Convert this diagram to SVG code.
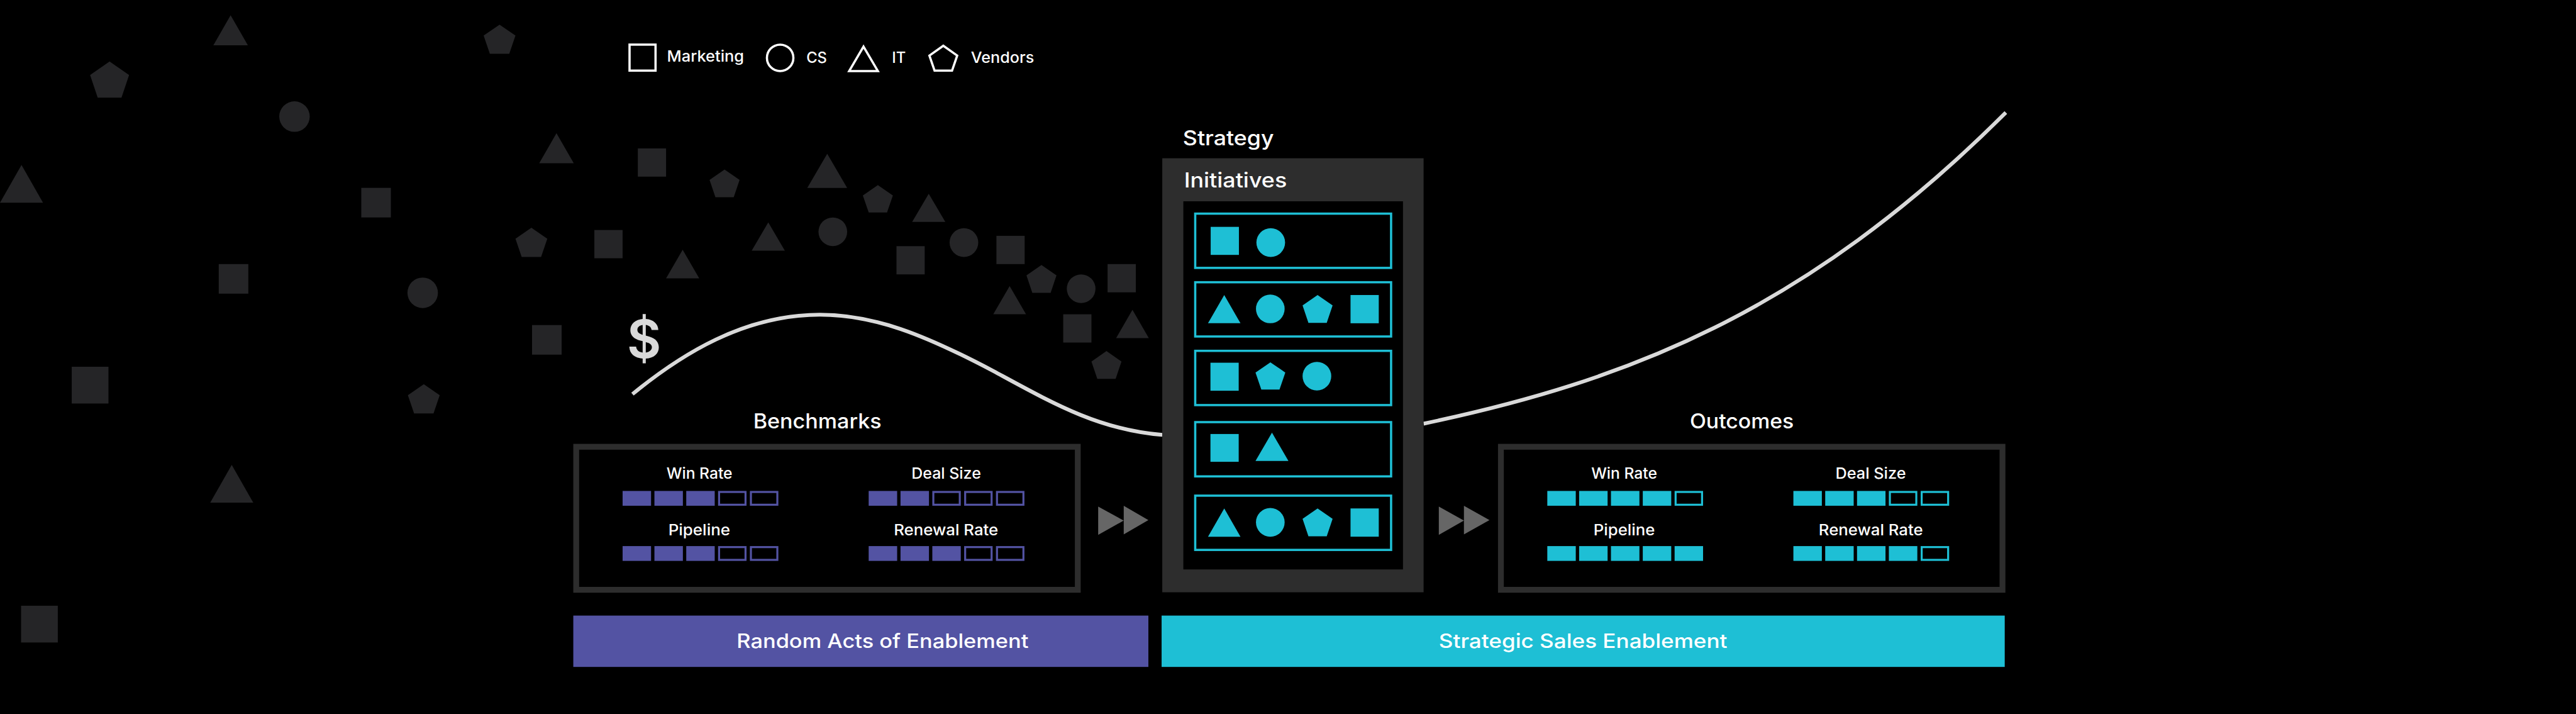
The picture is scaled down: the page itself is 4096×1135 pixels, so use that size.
<svg xmlns="http://www.w3.org/2000/svg" xmlns:xlink="http://www.w3.org/1999/xlink" width="4096" height="1135" viewBox="0 0 4096 1135">
<style>
text{font-family:Inter,"Liberation Sans",sans-serif;font-weight:500;fill:#fff}
.s{font-size:34px}.h{font-size:46px}.b{font-size:44px}
.d{fill:#252527}.c{fill:#1ebfd5}.p{fill:#5353a3}
.pe{fill:none;stroke:#5353a3;stroke-width:4.5}.ce{fill:none;stroke:#1ebfd5;stroke-width:4.5}
.frame{fill:#000;stroke:#2d2d2d;stroke-width:13}
.row{fill:#000;stroke:#1ebfd5;stroke-width:5}
.lg{fill:none;stroke:#fff;stroke-width:5}
.curve{fill:none;stroke:#d9d9d9;stroke-width:8.5}
.arrow{fill:#666}
</style>
<defs>
<polygon id="tri" points="0.5,0 1,1 0,1"/>
<polygon id="pent" points="0.5,0 1,0.375 0.805,1 0.195,1 0,0.375"/>
</defs>
<rect width="4096" height="1135" fill="#000"/>
<g transform="scale(0.71272)">
<g id="scatter" class="d">
<use href="#tri" transform="translate(476 34) scale(77 67)"/>
<use href="#pent" transform="translate(201 137) scale(87 81)"/>
<use href="#pent" transform="translate(1079 55) scale(71 65)"/>
<circle cx="657" cy="260" r="34"/>
<use href="#tri" transform="translate(1203 297) scale(77 67)"/>
<use href="#tri" transform="translate(0 368) scale(96 84)"/>
<rect x="806" y="419" width="66" height="66"/>
<use href="#pent" transform="translate(1150 508) scale(71 65)"/>
<rect x="488" y="589" width="66" height="66"/>
<circle cx="943" cy="653" r="34"/>
<rect x="1187" y="725" width="66" height="66"/>
<rect x="160" y="818" width="82" height="82"/>
<use href="#pent" transform="translate(910 857) scale(71 65)"/>
<use href="#tri" transform="translate(469 1037) scale(96 84)"/>
<rect x="47" y="1351" width="82" height="82"/>
<rect x="1423" y="331" width="63" height="63"/>
<use href="#pent" transform="translate(1583 378) scale(67 62)"/>
<use href="#tri" transform="translate(1801 343) scale(89 76)"/>
<use href="#pent" transform="translate(1925 413) scale(67 61)"/>
<use href="#tri" transform="translate(2035 432) scale(74 63)"/>
<circle cx="1858" cy="517" r="32"/>
<use href="#tri" transform="translate(1677 496) scale(74 63)"/>
<rect x="1326" y="513" width="63" height="63"/>
<use href="#tri" transform="translate(1486 557) scale(74 64)"/>
<rect x="2000" y="549" width="63" height="63"/>
<circle cx="2150.5" cy="541" r="32"/>
<rect x="2223" y="526" width="63" height="63"/>
<use href="#pent" transform="translate(2290 591) scale(67 62)"/>
<circle cx="2412" cy="644" r="32"/>
<rect x="2471" y="589" width="63" height="63"/>
<use href="#tri" transform="translate(2216 638) scale(73 63)"/>
<rect x="2372" y="701" width="63" height="63"/>
<use href="#tri" transform="translate(2490 691) scale(73 63)"/>
<use href="#pent" transform="translate(2435 783) scale(67 62)"/>
</g>
<g id="legend">
<rect class="lg" x="1404.5" y="99.5" width="58" height="58"/>
<text class="s" x="1488" y="137" textLength="172" lengthAdjust="spacingAndGlyphs">Marketing</text>
<circle class="lg" cx="1740.5" cy="129" r="29.5"/>
<text class="s" x="1799" y="141" textLength="46" lengthAdjust="spacingAndGlyphs">CS</text>
<polygon class="lg" points="1926.5,104 1958.5,158.5 1894.5,158.5"/>
<text class="s" x="1990" y="141" textLength="31" lengthAdjust="spacingAndGlyphs">IT</text>
<polygon class="lg" points="2104.5,102 2135.5,124 2124,157.5 2085,157.5 2073.5,124"/>
<text class="s" x="2166" y="141" textLength="141" lengthAdjust="spacingAndGlyphs">Vendors</text>
</g>
<g id="connectors">
<path class="curve" d="M1411 879C1520 790 1660 702 1829 702C1950 702 2060 745 2217 828C2350 900 2450 958 2593 970"/>
<path class="curve" d="M3176 945C3626 850 4025 700 4475 251"/>
<polygon class="arrow" points="2450,1130 2507,1161 2450,1193"/>
<polygon class="arrow" points="2507,1128 2562,1160 2507,1192"/>
<polygon class="arrow" points="3210,1130 3266,1161 3210,1193"/>
<polygon class="arrow" points="3266,1128 3323,1160 3266,1192"/>
</g>
<text id="dollar" x="1437" y="798" text-anchor="middle" style="font-size:118px;font-weight:600;fill:#d9d9d9">$</text>
<g id="benchmarks">
<text class="h" x="1680.5" y="956" textLength="286" lengthAdjust="spacingAndGlyphs">Benchmarks</text>
<rect class="frame" x="1285.5" y="996.5" width="1119" height="319"/>
<text class="s" x="1487" y="1068" textLength="147" lengthAdjust="spacingAndGlyphs">Win Rate</text>
<text class="s" x="2033.5" y="1068" textLength="155" lengthAdjust="spacingAndGlyphs">Deal Size</text>
<text class="s" x="1491" y="1194.5" textLength="138" lengthAdjust="spacingAndGlyphs">Pipeline</text>
<text class="s" x="1994" y="1194.5" textLength="233" lengthAdjust="spacingAndGlyphs">Renewal Rate</text>
<g class="p">
<rect x="1389" y="1095" width="63.5" height="33"/><rect x="1460" y="1095" width="63.5" height="33"/><rect x="1531" y="1095" width="63.5" height="33"/>
<rect x="1938" y="1095" width="63.5" height="33"/><rect x="2009" y="1095" width="63.5" height="33"/>
<rect x="1389" y="1218" width="63.5" height="33"/><rect x="1460" y="1218" width="63.5" height="33"/><rect x="1531" y="1218" width="63.5" height="33"/>
<rect x="1938" y="1218" width="63.5" height="33"/><rect x="2009" y="1218" width="63.5" height="33"/><rect x="2080" y="1218" width="63.5" height="33"/>
</g>
<g class="pe">
<rect x="1604.25" y="1097.25" width="59" height="28.5"/><rect x="1675.25" y="1097.25" width="59" height="28.5"/>
<rect x="2082.25" y="1097.25" width="59" height="28.5"/><rect x="2153.25" y="1097.25" width="59" height="28.5"/><rect x="2224.25" y="1097.25" width="59" height="28.5"/>
<rect x="1604.25" y="1220.25" width="59" height="28.5"/><rect x="1675.25" y="1220.25" width="59" height="28.5"/>
<rect x="2153.25" y="1220.25" width="59" height="28.5"/><rect x="2224.25" y="1220.25" width="59" height="28.5"/>
</g>
</g>
<g id="strategy">
<text class="h" x="2639" y="323.5" textLength="203" lengthAdjust="spacingAndGlyphs">Strategy</text>
<rect x="2593" y="353" width="583" height="968" fill="#2d2d2d"/>
<text class="h" x="2641.5" y="418" textLength="229.5" lengthAdjust="spacingAndGlyphs">Initiatives</text>
<rect x="2640" y="449" width="490" height="821" fill="#000"/>
<g id="initiative-1">
<rect class="row" x="2666.5" y="476.5" width="437" height="121"/>
<rect class="c" x="2701" y="506" width="63" height="62.5"/>
<circle class="c" cx="2835" cy="541" r="32"/>
</g>
<g id="initiative-2">
<rect class="row" x="2666.5" y="629.5" width="437" height="121"/>
<use class="c" href="#tri" transform="translate(2695 658) scale(72.5 63)"/>
<circle class="c" cx="2834" cy="689" r="32"/>
<use class="c" href="#pent" transform="translate(2906 658) scale(67 62)"/>
<rect class="c" x="3013" y="658" width="63" height="63"/>
</g>
<g id="initiative-3">
<rect class="row" x="2666.5" y="782.5" width="437" height="121"/>
<rect class="c" x="2700.5" y="809" width="63" height="62.5"/>
<use class="c" href="#pent" transform="translate(2801 808) scale(66.5 61)"/>
<circle class="c" cx="2938" cy="839" r="32"/>
</g>
<g id="initiative-4">
<rect class="row" x="2666.5" y="941.5" width="437" height="121"/>
<rect class="c" x="2700.5" y="968" width="63" height="62"/>
<use class="c" href="#tri" transform="translate(2801 965) scale(73.5 63)"/>
</g>
<g id="initiative-5">
<rect class="row" x="2666.5" y="1105.5" width="437" height="121"/>
<use class="c" href="#tri" transform="translate(2695 1134) scale(72.5 63)"/>
<circle class="c" cx="2834" cy="1165" r="32"/>
<use class="c" href="#pent" transform="translate(2906 1134) scale(67 62)"/>
<rect class="c" x="3013" y="1134" width="63" height="63"/>
</g>
</g>
<g id="outcomes">
<text class="h" x="3770" y="956" textLength="232" lengthAdjust="spacingAndGlyphs">Outcomes</text>
<rect class="frame" x="3348.5" y="996.5" width="1119" height="319"/>
<text class="s" x="3550" y="1068" textLength="147" lengthAdjust="spacingAndGlyphs">Win Rate</text>
<text class="s" x="4095" y="1068" textLength="157" lengthAdjust="spacingAndGlyphs">Deal Size</text>
<text class="s" x="3555" y="1194.5" textLength="137" lengthAdjust="spacingAndGlyphs">Pipeline</text>
<text class="s" x="4057.5" y="1194.5" textLength="232.5" lengthAdjust="spacingAndGlyphs">Renewal Rate</text>
<g class="c">
<rect x="3452" y="1095" width="63.5" height="33"/><rect x="3523" y="1095" width="63.5" height="33"/><rect x="3594" y="1095" width="63.5" height="33"/><rect x="3665" y="1095" width="63.5" height="33"/>
<rect x="4001" y="1095" width="63.5" height="33"/><rect x="4072" y="1095" width="63.5" height="33"/><rect x="4143" y="1095" width="63.5" height="33"/>
<rect x="3452" y="1218" width="63.5" height="33"/><rect x="3523" y="1218" width="63.5" height="33"/><rect x="3594" y="1218" width="63.5" height="33"/><rect x="3665" y="1218" width="63.5" height="33"/><rect x="3736" y="1218" width="63.5" height="33"/>
<rect x="4001" y="1218" width="63.5" height="33"/><rect x="4072" y="1218" width="63.5" height="33"/><rect x="4143" y="1218" width="63.5" height="33"/><rect x="4214" y="1218" width="63.5" height="33"/>
</g>
<g class="ce">
<rect x="3738.25" y="1097.25" width="59" height="28.5"/>
<rect x="4216.25" y="1097.25" width="59" height="28.5"/><rect x="4287.25" y="1097.25" width="59" height="28.5"/>
<rect x="4287.25" y="1220.25" width="59" height="28.5"/>
</g>
</g>
<g id="band-random">
<rect class="p" x="1279" y="1373" width="1283" height="114.5"/>
<text class="b" x="1643.5" y="1445" textLength="651" lengthAdjust="spacingAndGlyphs">Random Acts of Enablement</text>
</g>
<g id="band-strategic">
<rect class="c" x="2591.5" y="1373" width="1881" height="114.5"/>
<text class="b" x="3210" y="1445" textLength="643.5" lengthAdjust="spacingAndGlyphs">Strategic Sales Enablement</text>
</g>
</g>
</svg>
